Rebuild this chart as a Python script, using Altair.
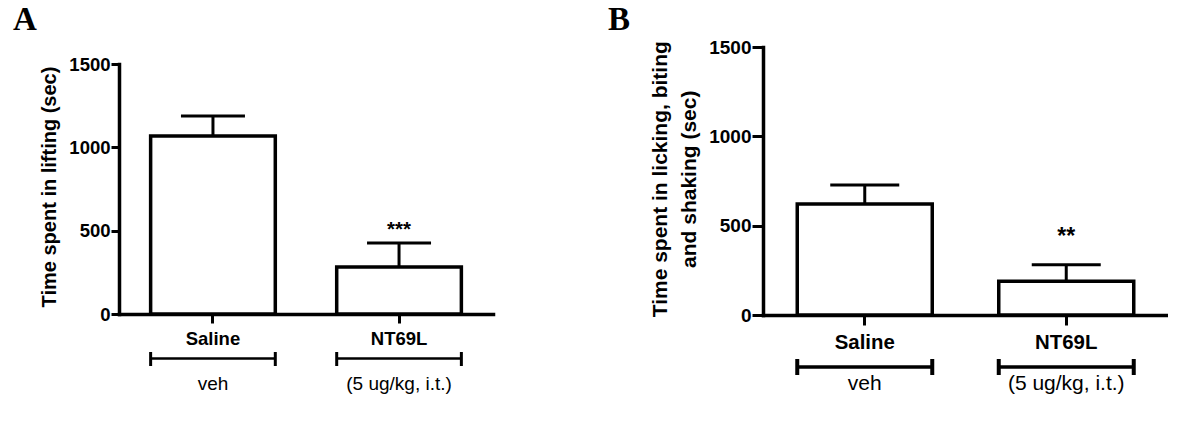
import altair as alt
import pandas as pd

# ---- data ----
groups = ["Saline", "NT69L"]
doses = ["veh", "(5 ug/kg, i.t.)"]

lifting_mean = [1068, 282]
lifting_sem = [120, 144]
lifting_stars = ["", "***"]

licking_mean = [621, 189]
licking_sem = [106, 92]
licking_stars = ["", "**"]

y_ticks = [0, 500, 1000, 1500]

SANS = "Liberation Sans"
SERIF = "Liberation Serif"


def panel(letter, means, sems, stars, title, s):
    df = pd.DataFrame({"group": groups, "dose": doses, "mean": means,
                       "sem": sems, "star": stars})
    xscale = alt.Scale(domain=groups, paddingInner=0.33, paddingOuter=0.17)
    xaxis = alt.Axis(title=None, labelAngle=0, labelFont=SANS,
                     labelFontWeight="bold", labelFontSize=s["xlabel"],
                     labelColor="black", labelPadding=s["xlabelpad"],
                     tickSize=s["xtick"], tickWidth=3, tickColor="black",
                     domainWidth=3.5, domainColor="black", domainCap="square",
                     offset=s["xoffset"], grid=False)

    def X(bp=None):
        if bp is None:
            return alt.X("group:N", sort=groups, scale=xscale, axis=xaxis)
        return alt.X("group:N", sort=groups, scale=xscale, axis=xaxis,
                     bandPosition=bp)

    yscale_kw = dict(domain=[0, 1500], nice=False)
    if s.get("yrange"):
        yscale_kw["range"] = s["yrange"]
    yscale = alt.Scale(**yscale_kw)
    title_kw = dict(titleX=s["titleX"], titleY=s["titleY"],
                    titleBaseline=s["titleBaseline"], titleAlign="center",
                    titleAngle=270)
    if s.get("titleLineHeight"):
        title_kw["titleLineHeight"] = s["titleLineHeight"]
    yaxis = alt.Axis(title=title, values=y_ticks, format="d",
                     labelFont=SANS, labelFontWeight="bold",
                     labelFontSize=s["ylabel"], labelColor="black",
                     labelPadding=1, tickSize=s["ytick"], tickWidth=3,
                     tickColor="black", domainWidth=3.5, domainColor="black",
                     domainCap="square", grid=False,
                     titleFont=SANS, titleFontWeight="bold",
                     titleFontSize=s["titlefs"], titleColor="black",
                     **title_kw)
    Y = lambda f: alt.Y(f, scale=yscale, axis=yaxis)

    base = alt.Chart(df).transform_calculate(upper="datum.mean + datum.sem")

    bars = base.mark_bar(fill="white", stroke="black", strokeWidth=3.5).encode(
        x=X(), y=Y("mean:Q"))
    stem = base.mark_rule(color="#000000", strokeWidth=3).encode(
        x=X(), y=Y("mean:Q"), y2="upper:Q")
    cap = base.mark_tick(color="#000000", thickness=3, size=s["cap"],
                         opacity=1).encode(x=X(), y=Y("upper:Q"))
    star = base.mark_text(font=SANS, fontWeight="bold", fontSize=s["starfs"],
                          color="black", baseline="alphabetic",
                          dy=s["stardy"]).encode(
        x=X(), y=Y("upper:Q"), text="star:N")

    by = s["brk_y"]
    bw = s["brk_w"]
    brk = base.mark_rect(color="black").encode(
        x=X(), y=alt.value(by - bw / 2), y2=alt.value(by + bw / 2))
    brk_l = base.mark_rule(color="black", strokeWidth=bw + 0.5).encode(
        x=X(0), y=alt.value(s["brk_y1"]), y2=alt.value(s["brk_y2"]))
    brk_r = base.mark_rule(color="black", strokeWidth=bw + 0.5).encode(
        x=X(1), y=alt.value(s["brk_y1"]), y2=alt.value(s["brk_y2"]))
    sub = base.mark_text(font=SANS, fontSize=s["subfs"], color="black",
                         baseline="alphabetic").encode(
        x=X(), y=alt.value(s["sub_y"]), text="dose:N")

    lab = alt.Chart(pd.DataFrame({"t": [letter]})).mark_text(
        font=SERIF, fontWeight="bold", fontSize=33, color="black",
        align="left", baseline="alphabetic").encode(
        x=alt.value(s["letter_x"]), y=alt.value(-17), text="t:N")

    return alt.layer(bars, stem, cap, star, brk, brk_l, brk_r, sub, lab).properties(
        width=s["width"], height=268)


sa = dict(width=374, yrange=[267, 17], xoffset=-1, ytick=8, ylabel=18.5,
          xlabel=18.5, xtick=9, xlabelpad=6, titlefs=20, titleX=-64,
          titleY=139.5, titleBaseline="alphabetic", cap=64, starfs=20.5,
          stardy=-7, brk_y=311.5, brk_w=2.5, brk_y1=305, brk_y2=319,
          sub_y=343, subfs=19, letter_x=-106)
sb = dict(width=405, xoffset=0, ytick=11, ylabel=19, xlabel=20.4, xtick=10,
          xlabelpad=7, titlefs=21, titleX=-103, titleY=131.75,
          titleBaseline="middle", titleLineHeight=29, cap=69, starfs=23,
          stardy=-21, brk_y=320, brk_w=3.5, brk_y1=312, brk_y2=328,
          sub_y=343, subfs=21, letter_x=-155)

pa = panel("A", lifting_mean, lifting_sem, lifting_stars,
           "Time spent in lifting (sec)", sa)
pb = panel("B", licking_mean, licking_sem, licking_stars,
           ["Time spent in licking, biting", "and shaking (sec)"], sb)

chart = alt.hconcat(pa, pb, spacing=270, bounds="flush").properties(
    padding={"left": 5, "top": -4, "right": 0, "bottom": 0},
    background="white"
).configure_view(stroke=None)

chart.save("out.html", embed_options={"renderer": "svg", "actions": False})
